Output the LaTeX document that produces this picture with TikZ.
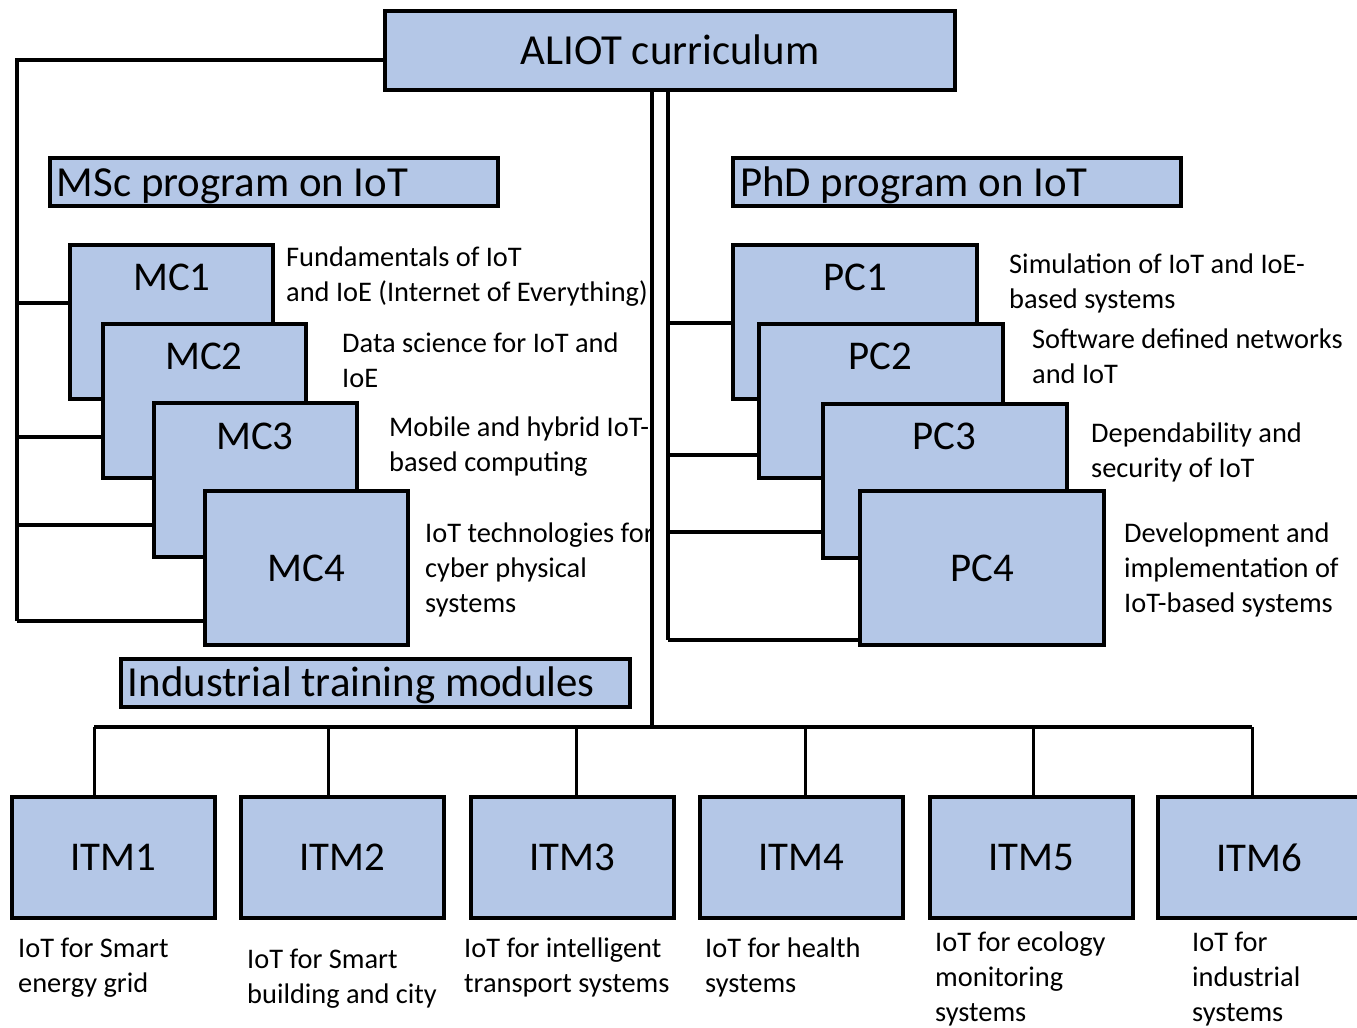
\documentclass[tikz,border=0pt]{standalone}
\usepackage{fontspec}
\setmainfont{Carlito}
\usetikzlibrary{positioning}
\definecolor{boxblue}{HTML}{B4C7E7}

\tikzset{
  modbox/.style={draw, line width=4bp, fill=boxblue, inner sep=0pt, outer sep=0pt,
    minimum width=203bp, minimum height=154bp, font=\fontsize{41}{48}\selectfont},
  phdbox/.style={modbox, minimum width=244bp},
  itmbox/.style={modbox, minimum height=121bp},
  headbox/.style={draw, line width=4bp, fill=boxblue, outer sep=0pt, inner xsep=7bp,
    inner ysep=0pt, minimum height=48bp, text height=28bp, text depth=0pt,
    align=flush left, font=\fontsize{43}{50}\selectfont},
  modlabel/.style={inner sep=0pt, font=\fontsize{41}{48}\selectfont},
  desc/.style={anchor=base west, inner sep=0pt, align=left, font=\fontsize{28.5}{35}\selectfont},
  conn/.style={line width=4bp},
  drop/.style={line width=3bp}
}

\begin{document}
\begin{tikzpicture}[x=1bp, y=-1bp]
\useasboundingbox (0,0) rectangle (1357,1027);

% Top
\node[draw, line width=4bp, fill=boxblue, inner sep=0pt, minimum width=570bp, minimum height=79bp,
  text height=28bp, text depth=0pt, font=\fontsize{43}{50}\selectfont] (aliot) at (670,50.5) {ALIOT curriculum};

% MSc side
\node[headbox, text width=434bp] (msc) at (274,182) {MSc program on IoT};
\node[modbox] (mc1) at (171.5,322) {};
\node[modlabel] (mc1t) at (172,277) {MC1};
\node[modbox] (mc2) at (204.5,401) {};
\node[modlabel] (mc2t) at (204,356) {MC2};
\node[modbox] (mc3) at (255,480) {};
\node[modlabel] (mc3t) at (255,436) {MC3};
\node[modbox] (mc4) at (306.5,568) {MC4};

\node[desc] (md1) at (286,301) {Fundamentals of IoT\\and IoE (Internet of Everything)};
\node[desc] (md2) at (342,387) {Data science for IoT and\\IoE};
\node[desc] (md3) at (389,471) {Mobile and hybrid IoT-\\based computing};
\node[desc] (md4) at (425,612) {IoT technologies for\\cyber physical\\systems};

% PhD side
\node[headbox, text width=434bp] (phd) at (957,182) {PhD program on IoT};
\node[phdbox] (pc1) at (854.5,322) {};
\node[modlabel] (pc1t) at (855,277) {PC1};
\node[phdbox] (pc2) at (880.5,401) {};
\node[modlabel] (pc2t) at (880,356) {PC2};
\node[phdbox] (pc3) at (945,481) {};
\node[modlabel] (pc3t) at (944,436) {PC3};
\node[phdbox] (pc4) at (982,568) {PC4};

\node[desc] (pd1) at (1009,308) {Simulation of IoT and IoE-\\based systems};
\node[desc] (pd2) at (1032,383) {Software defined networks\\and IoT};
\node[desc] (pd3) at (1091,477) {Dependability and\\security of IoT};
\node[desc] (pd4) at (1124,612) {Development and\\implementation of\\IoT-based systems};

% Industrial training
\node[headbox, text width=495bp] (itm) at (375.5,682.5) {Industrial training modules};
\node[itmbox] (itm1) at (113.5,857.5) {ITM1};
\node[itmbox] (itm2) at (342.5,857.5) {ITM2};
\node[itmbox] (itm3) at (572,857.5) {ITM3};
\node[itmbox] (itm4) at (801,857.5) {ITM4};
\node[itmbox] (itm5) at (1031,857.5) {ITM5};
\node[itmbox] (itm6) at (1259,857.5) {ITM6};

\node[desc] (id1) at (18,992) {IoT for Smart\\energy grid};
\node[desc] (id2) at (247,1003) {IoT for Smart\\building and city};
\node[desc] (id3) at (464,992) {IoT for intelligent\\transport systems};
\node[desc] (id4) at (705,992) {IoT for health\\systems};
\node[desc] (id5) at (935,1021) {IoT for ecology\\monitoring\\systems};
\node[desc] (id6) at (1192,1021) {IoT for\\industrial\\systems};

% Connectors, MSc
\coordinate (ltop) at (17,60);
\coordinate (m1) at (17,303);
\coordinate (m2) at (17,437);
\coordinate (m3) at (17,525);
\coordinate (m4) at (17,621);
\draw[conn] (aliot.west |- ltop) -- (ltop) -- (m4);
\draw[conn] (m1) -- (m1 -| mc1.west);
\draw[conn] (m2) -- (m2 -| mc2.west);
\draw[conn] (m3) -- (m3 -| mc3.west);
\draw[conn] (m4) -- (m4 -| mc4.west);

% Connectors, PhD
\coordinate (p1) at (668,323);
\coordinate (p2) at (668,455);
\coordinate (p3) at (668,532);
\coordinate (p4) at (668,640);
\draw[conn] (p1 |- aliot.south) -- (p4);
\draw[conn] (p1) -- (p1 -| pc1.west);
\draw[conn] (p2) -- (p2 -| pc2.west);
\draw[conn] (p3) -- (p3 -| pc3.west);
\draw[conn] (p4) -- (p4 -| pc4.west);

% Connectors, ITM
\coordinate (bus) at (652,727);
\coordinate (d1) at (94,727);
\coordinate (d2) at (328,727);
\coordinate (d3) at (576,727);
\coordinate (d4) at (805,727);
\coordinate (d5) at (1033,727);
\coordinate (d6) at (1252,727);
\draw[conn] (bus |- aliot.south) -- (bus);
\draw[conn] (d1) -- (d6);
\foreach \i in {1,...,6}
  \draw[drop] (d\i) -- (d\i |- itm\i.north);
\end{tikzpicture}
\end{document}
